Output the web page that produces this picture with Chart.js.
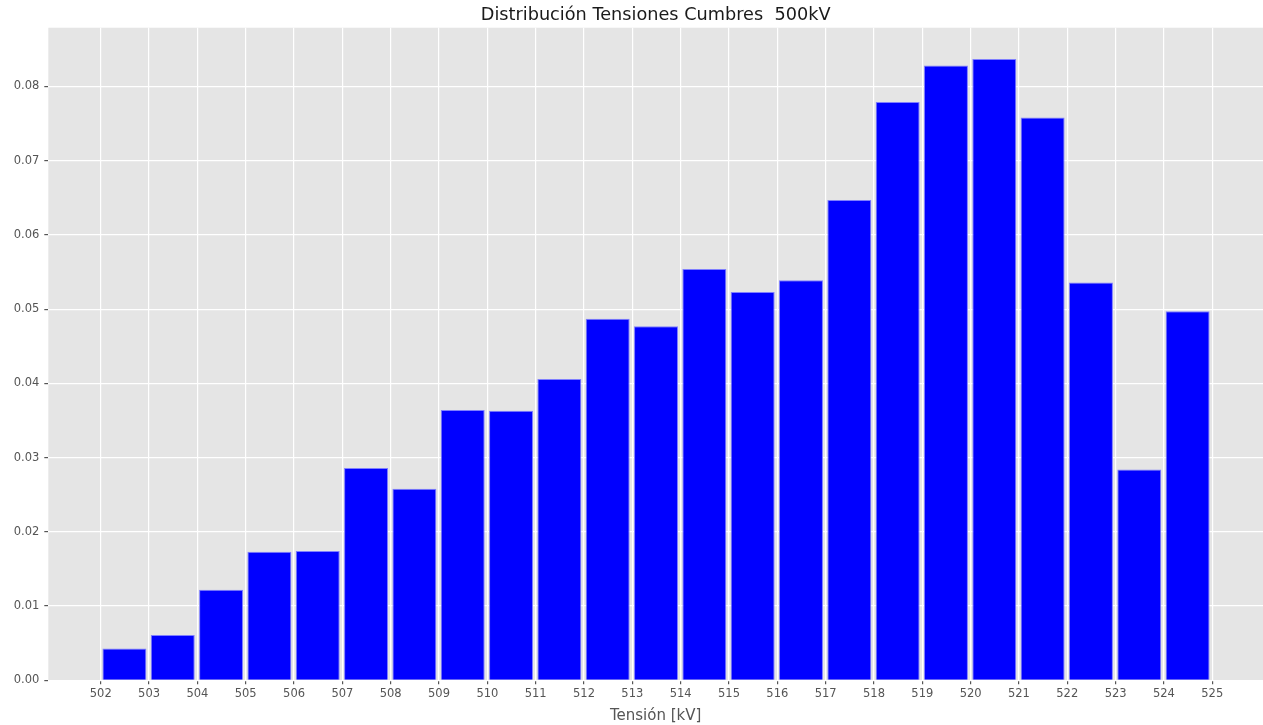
<!DOCTYPE html>
<html>
<head>
<meta charset="utf-8">
<script src="https://cdn.jsdelivr.net/npm/chart.js@4/dist/chart.umd.min.js"></script>
<style>
html,body{margin:0;padding:0;background:#fff;overflow:hidden;}
canvas{display:block;}
</style>
</head>
<body>
<canvas id="c" width="1263" height="725"></canvas>
<script>
// Histogram bins (left edge of each 1 kV bin)
const binStarts = [502,503,504,505,506,507,508,509,510,511,512,513,514,515,516,517,518,519,520,521,522,523,524];
// Density per bin
const densities = [0.0043,0.0061,0.0122,0.0173,0.0174,0.0286,0.0258,0.0364,0.0363,0.0406,0.0487,0.0477,0.0554,0.0523,0.0539,0.0647,0.0779,0.0828,0.0837,0.0758,0.0536,0.0284,0.0497];
// Tick labels
const xTicks = [502,503,504,505,506,507,508,509,510,511,512,513,514,515,516,517,518,519,520,521,522,523,524,525];
const yTicks = [0,0.01,0.02,0.03,0.04,0.05,0.06,0.07,0.08];

const chartTitle = 'Distribución Tensiones Cumbres  500kV';
const xTitle = 'Tensión [kV]';

const bgPlugin = {
  id: 'plotBg',
  beforeDraw(chart) {
    const {ctx, chartArea:a} = chart;
    ctx.save();
    ctx.fillStyle = '#E5E5E5';
    ctx.fillRect(a.left, a.top, a.right - a.left, a.bottom - a.top);
    ctx.restore();
  }
};

const FONT = "'DejaVu Sans', sans-serif";

new Chart(document.getElementById('c'), {
  type: 'bar',
  data: {
    datasets: [{
      data: binStarts.map((b, i) => ({x: b + 0.49, y: densities[i]})),
      backgroundColor: '#0000FF',
      borderColor: '#7f7fff',
      borderWidth: 1,
      barPercentage: 0.91,
      categoryPercentage: 1.0
    }]
  },
  options: {
    responsive: false,
    animation: false,
    devicePixelRatio: 1,
    layout: {padding: 0},
    plugins: {
      legend: {display: false},
      tooltip: {enabled: false},
      title: {
        display: true,
        fullSize: false,
        text: chartTitle,
        color: '#1a1a1a',
        font: {family: FONT, size: 17.7, weight: 'normal', lineHeight: 1.2},
        padding: {top: 5, bottom: 1.5}
      }
    },
    scales: {
      x: {
        type: 'linear',
        offset: false,
        min: 500.915,
        max: 526.05,
        afterBuildTicks(axis) { axis.ticks = xTicks.map(v => ({value: v})); },
        afterFit(axis) { axis.height = 44.7; },
        ticks: {
          color: '#555555',
          font: {family: FONT, size: 11.5},
          padding: 3,
          maxRotation: 0,
          autoSkip: false,
          callback: v => String(v)
        },
        grid: {
          offset: false,
          color: '#FFFFFF',
          lineWidth: 1.2,
          tickColor: '#555555',
          tickLength: 4,
          drawTicks: true
        },
        border: {display: false},
        title: {
          display: true,
          text: xTitle,
          color: '#555555',
          font: {family: FONT, size: 15, lineHeight: 1.2},
          padding: {top: 0.5, bottom: 0}
        }
      },
      y: {
        type: 'linear',
        min: 0,
        max: 0.0879,
        afterBuildTicks(axis) { axis.ticks = yTicks.map(v => ({value: v})); },
        afterFit(axis) { axis.width = 48.3; },
        ticks: {
          color: '#555555',
          font: {family: FONT, size: 11.5},
          padding: 5,
          callback: v => Number(v).toFixed(2)
        },
        grid: {
          offset: false,
          color: '#FFFFFF',
          lineWidth: 1.2,
          tickColor: '#555555',
          tickLength: 4,
          drawTicks: true
        },
        border: {display: false}
      }
    }
  },
  plugins: [bgPlugin]
});
</script>
</body>
</html>
